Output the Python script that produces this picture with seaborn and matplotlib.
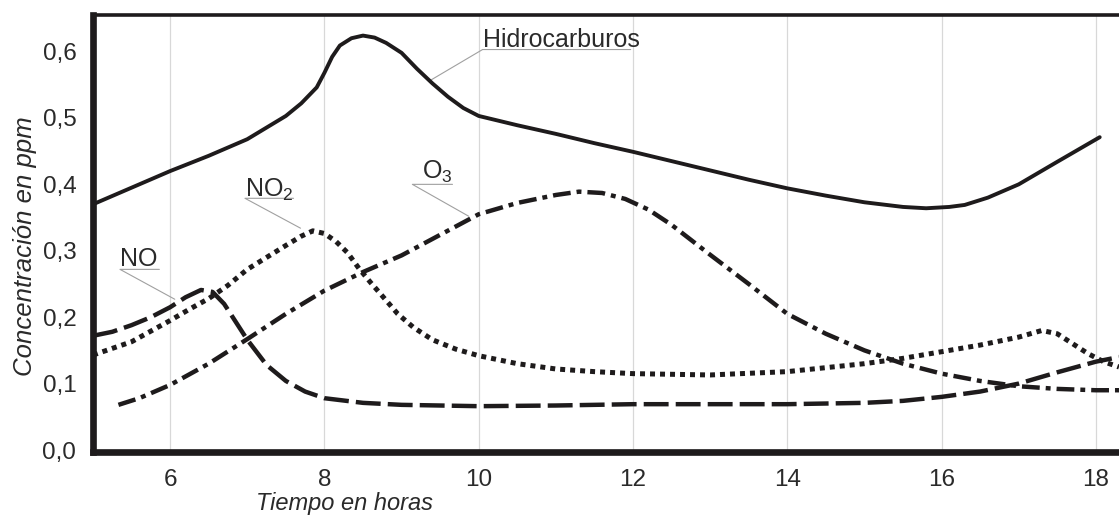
import pandas as pd
import seaborn as sns
import matplotlib.pyplot as plt

# Estilo base
sns.set_style("white")
plt.rcParams['font.family'] = ['Liberation Sans', 'DejaVu Sans']
plt.rcParams['mathtext.default'] = 'regular'

# Datos (hora, ppm)
hc_t = [5.0, 5.5, 6.0, 6.5, 7.0, 7.5, 7.7, 7.9, 8.0, 8.1, 8.2, 8.35, 8.5, 8.65, 8.8, 9.0,
        9.2, 9.4, 9.6, 9.8, 10.0, 10.5, 11.0, 11.5, 12.0, 12.5, 13.0, 13.5, 14.0,
        14.5, 15.0, 15.5, 15.8, 16.1, 16.3, 16.6, 17.0, 17.5, 18.05]
hc_v = [0.370, 0.395, 0.420, 0.443, 0.468, 0.503, 0.522, 0.546, 0.568, 0.592, 0.609, 0.620,
        0.624, 0.621, 0.613, 0.598, 0.574, 0.552, 0.532, 0.515, 0.503, 0.489, 0.476,
        0.462, 0.449, 0.435, 0.421, 0.407, 0.394, 0.383, 0.373, 0.366, 0.364, 0.366,
        0.369, 0.380, 0.400, 0.434, 0.471]

no_t = [5.0, 5.25, 5.5, 5.75, 6.0, 6.2, 6.4, 6.55, 6.7, 6.85, 7.0, 7.25, 7.5, 7.75,
        8.0, 8.5, 9.0, 10.0, 11.0, 12.0, 13.0, 14.0, 15.0, 15.5, 16.0, 16.5, 17.0,
        17.5, 18.0, 18.3]
no_v = [0.172, 0.178, 0.188, 0.200, 0.215, 0.230, 0.241, 0.238, 0.220, 0.193, 0.166,
        0.128, 0.104, 0.088, 0.078, 0.071, 0.068, 0.066, 0.067, 0.069, 0.069, 0.069,
        0.071, 0.074, 0.080, 0.088, 0.100, 0.117, 0.133, 0.140]

no2_t = [5.0, 5.5, 6.0, 6.25, 6.5, 6.75, 7.0, 7.25, 7.5, 7.7, 7.85, 8.0, 8.15, 8.3,
         8.45, 8.6, 8.75, 8.95, 9.15, 9.4, 9.7, 10.0, 10.5, 11.0, 11.5, 12.0, 13.0,
         14.0, 15.0, 15.5, 16.0, 16.5, 17.0, 17.3, 17.5, 17.7, 17.9, 18.1, 18.3]
no2_v = [0.143, 0.163, 0.195, 0.212, 0.228, 0.248, 0.272, 0.290, 0.308, 0.322, 0.330,
         0.326, 0.314, 0.297, 0.273, 0.252, 0.232, 0.205, 0.185, 0.166, 0.152, 0.142,
         0.130, 0.122, 0.118, 0.115, 0.113, 0.118, 0.130, 0.138, 0.148, 0.158, 0.170,
         0.180, 0.175, 0.160, 0.145, 0.133, 0.125]

o3_t = [5.33, 5.6, 6.0, 6.5, 7.0, 7.5, 8.0, 8.5, 9.0, 9.5, 10.0, 10.5, 11.0, 11.3,
        11.6, 11.9, 12.2, 12.5, 13.0, 13.5, 14.0, 14.5, 15.0, 15.5, 16.0, 16.5, 17.0,
        17.5, 18.0, 18.3]
o3_v = [0.068, 0.078, 0.098, 0.130, 0.167, 0.205, 0.240, 0.268, 0.293, 0.324, 0.355,
        0.372, 0.384, 0.389, 0.387, 0.378, 0.362, 0.339, 0.294, 0.250, 0.205, 0.175,
        0.150, 0.130, 0.115, 0.104, 0.096, 0.092, 0.090, 0.090]

x_ticks = [6, 8, 10, 12, 14, 16, 18]
y_ticks = [0.0, 0.1, 0.2, 0.3, 0.4, 0.5, 0.6]
y_tick_labels = ["0,0", "0,1", "0,2", "0,3", "0,4", "0,5", "0,6"]

# Etiquetas: texto, x texto, y texto, subrayado (x0, x1, y), punto de la curva
etiquetas = [
    ("Hidrocarburos", 10.05, 0.607, 10.05, 11.97, 0.603, 9.35, 0.555),
    ("NO", 5.35, 0.277, 5.35, 5.86, 0.272, 6.06, 0.227),
    ("NO$_2$", 6.97, 0.382, 6.97, 7.60, 0.379, 7.69, 0.334),
    ("O$_3$", 9.27, 0.409, 9.14, 9.66, 0.400, 9.87, 0.352),
]

df = pd.concat([
    pd.DataFrame({'hora': hc_t, 'ppm': hc_v, 'gas': 'Hidrocarburos'}),
    pd.DataFrame({'hora': no_t, 'ppm': no_v, 'gas': 'NO'}),
    pd.DataFrame({'hora': no2_t, 'ppm': no2_v, 'gas': 'NO2'}),
    pd.DataFrame({'hora': o3_t, 'ppm': o3_v, 'gas': 'O3'}),
], ignore_index=True)

negro = '#1e1b1c'
gases = ['Hidrocarburos', 'NO', 'NO2', 'O3']

fig = plt.figure(figsize=(11.19, 5.19), dpi=100)
ax = fig.add_axes([93 / 1119, 67 / 519, 1026 / 1119, 437 / 519])

sns.lineplot(data=df, x='hora', y='ppm', hue='gas', style='gas', size='gas',
             palette={g: negro for g in gases},
             dashes={'Hidrocarburos': '', 'NO': (5.6, 1.6), 'NO2': (1, 1),
                     'O3': (4.0, 1.35, 1.1, 1.35)},
             sizes={'Hidrocarburos': 2.8, 'NO': 3.2, 'NO2': 3.6, 'O3': 3.2},
             legend=False, ax=ax)

for line in ax.get_lines():
    line.set_solid_joinstyle('round')
    line.set_dash_joinstyle('round')

for texto, tx, ty, ux0, ux1, uy, px, py in etiquetas:
    ax.plot([px, ux0, ux1], [py, uy, uy], color='#a0a0a0', lw=0.8, zorder=1)
    ax.text(tx, ty, texto, fontsize=18, color='#2a2a2a', ha='left', va='baseline')

ax.set_xlim(5, 18.3)
ax.set_ylim(-0.003, 0.655)
ax.set_xticks(x_ticks)
ax.set_yticks(y_ticks)
ax.set_yticklabels(y_tick_labels)

ax.grid(axis='x', color='#d8d8d8', lw=0.9)
ax.grid(axis='y', visible=False)
ax.set_axisbelow(True)

for lado in ['left', 'bottom']:
    ax.spines[lado].set_linewidth(4.8)
    ax.spines[lado].set_color(negro)
ax.spines['top'].set_linewidth(2.6)
ax.spines['top'].set_color(negro)
ax.spines['right'].set_visible(False)

ax.tick_params(axis='both', labelsize=17.5, colors='#2a2a2a', width=1.0, length=10,
               direction='out', pad=2)
ax.tick_params(axis='both', color='#555555')

ax.set_xlabel('Tiempo en horas', fontsize=17, style='italic', color='#2a2a2a')
ax.set_ylabel('Concentración en ppm', fontsize=18.5, style='italic', color='#2a2a2a')
ax.xaxis.set_label_coords(0.2456, -0.092)
ax.yaxis.set_label_coords(-0.055, 0.471)

fig.savefig('out.png', dpi=100)
plt.close(fig)
